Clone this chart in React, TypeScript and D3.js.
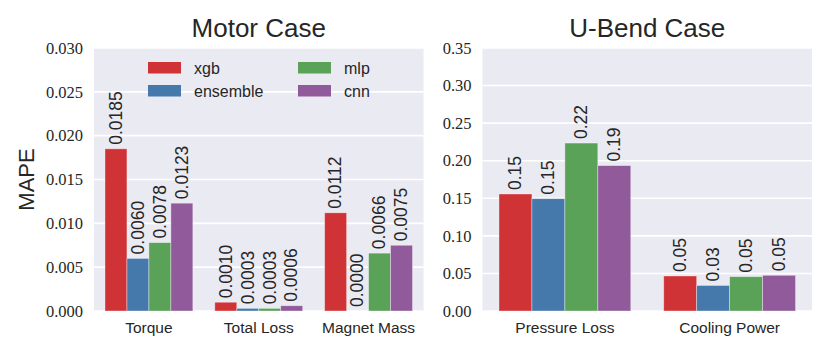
import React from 'react';
import * as d3 from 'd3';

// models, shared by both panels
const models = ['xgb', 'ensemble', 'mlp', 'cnn'];
const modelColors = ['#cf3336', '#4679ab', '#5aa257', '#915a9b'];

// Motor case
const motorCategories = ['Torque', 'Total Loss', 'Magnet Mass'];
const motorXgb = [0.0185, 0.001, 0.0112];
const motorEnsemble = [0.006, 0.0003, 0.0];
const motorMlp = [0.0078, 0.0003, 0.0066];
const motorCnn = [0.0123, 0.0006, 0.0075];
const motorTicks = ['0.000', '0.005', '0.010', '0.015', '0.020', '0.025', '0.030'];
const motorLabels = [
  ['0.0185', '0.0060', '0.0078', '0.0123'],
  ['0.0010', '0.0003', '0.0003', '0.0006'],
  ['0.0112', '0.0000', '0.0066', '0.0075'],
];

// U-Bend case
const ubendCategories = ['Pressure Loss', 'Cooling Power'];
const ubendXgb = [0.1557, 0.0466];
const ubendEnsemble = [0.1495, 0.034];
const ubendMlp = [0.2235, 0.0457];
const ubendCnn = [0.1935, 0.0475];
const ubendTicks = ['0.00', '0.05', '0.10', '0.15', '0.20', '0.25', '0.30', '0.35'];
const ubendLabels = [
  ['0.15', '0.15', '0.22', '0.19'],
  ['0.05', '0.03', '0.05', '0.05'],
];

const SANS = '"Liberation Sans", Arial, sans-serif';
const SERIF = '"Liberation Serif", "DejaVu Serif", serif';

type PanelProps = {
  left: number;
  right: number;
  top: number;
  bottom: number;
  title: string;
  categories: string[];
  series: number[][];
  labels: string[][];
  ticks: string[];
  showLegend?: boolean;
  yLabel?: string;
};

function Panel(p: PanelProps) {
  const yMax = +p.ticks[p.ticks.length - 1];
  const y = d3.scaleLinear().domain([0, yMax]).range([p.bottom, p.top]);
  const x0 = d3.scaleBand().domain(p.categories).range([p.left, p.right]).paddingInner(0.2).paddingOuter(0.1);
  const x1 = d3.scaleBand().domain(models).range([0, x0.bandwidth()]);

  return (
    <g>
      <rect x={p.left} y={p.top} width={p.right - p.left} height={p.bottom - p.top} fill="#eaeaf2" />
      {p.ticks.map((t) => (
        <g key={t}>
          <line x1={p.left} x2={p.right} y1={y(+t)} y2={y(+t)} stroke="#fff" strokeWidth={1.6} />
          <text x={p.left - 11} y={y(+t)} dy="0.35em" textAnchor="end" fontFamily={SERIF} fontSize={16.5} fill="#262626">
            {t}
          </text>
        </g>
      ))}
      {p.categories.map((c, ci) => (
        <g key={c}>
          {models.map((m, mi) => {
            const v = p.series[mi][ci];
            const bx = (x0(c) as number) + (x1(m) as number);
            const w = x1.bandwidth();
            return (
              <g key={m}>
                <rect x={bx} y={y(v)} width={w} height={p.bottom - y(v)} fill={modelColors[mi]} stroke="#fff" strokeOpacity={0.45} strokeWidth={0.8} />
                <text
                  transform={`translate(${bx + w / 2},${y(v) - 4}) rotate(-90)`}
                  dy="0.33em"
                  fontFamily={SANS}
                  fontSize={17.5}
                  fill="#262626"
                >
                  {p.labels[ci][mi]}
                </text>
              </g>
            );
          })}
          <text x={(x0(c) as number) + x0.bandwidth() / 2} y={p.bottom + 22} textAnchor="middle" fontFamily={SANS} fontSize={15.5} fill="#262626">
            {c}
          </text>
        </g>
      ))}
      <text x={(p.left + p.right) / 2} y={37} textAnchor="middle" fontFamily={SANS} fontSize={26} fill="#262626">
        {p.title}
      </text>
      {p.yLabel && (
        <text transform={`translate(34,${(p.top + p.bottom) / 2}) rotate(-90)`} textAnchor="middle" fontFamily={SANS} fontSize={22} fill="#262626">
          {p.yLabel}
        </text>
      )}
      {p.showLegend &&
        models.map((m, i) => {
          // legend fills column-wise: xgb, ensemble | mlp, cnn
          const col = Math.floor(i / 2);
          const row = i % 2;
          const lx = p.left + 54 + col * 150;
          const ly = p.top + 14 + row * 23;
          return (
            <g key={m}>
              <rect x={lx} y={ly} width={33} height={11.5} fill={modelColors[i]} />
              <text x={lx + 46} y={ly + 6} dy="0.35em" fontFamily={SANS} fontSize={16} fill="#262626">
                {m}
              </text>
            </g>
          );
        })}
    </g>
  );
}

export default function App() {
  return (
    <svg width={830} height={356} style={{ position: 'absolute', left: 0, top: 0, background: '#fff' }}>
      <Panel
        left={94}
        right={423.5}
        top={48}
        bottom={311}
        title="Motor Case"
        categories={motorCategories}
        series={[motorXgb, motorEnsemble, motorMlp, motorCnn]}
        labels={motorLabels}
        ticks={motorTicks}
        showLegend
        yLabel="MAPE"
      />
      <Panel
        left={482.5}
        right={812}
        top={48}
        bottom={311}
        title="U-Bend Case"
        categories={ubendCategories}
        series={[ubendXgb, ubendEnsemble, ubendMlp, ubendCnn]}
        labels={ubendLabels}
        ticks={ubendTicks}
      />
    </svg>
  );
}
